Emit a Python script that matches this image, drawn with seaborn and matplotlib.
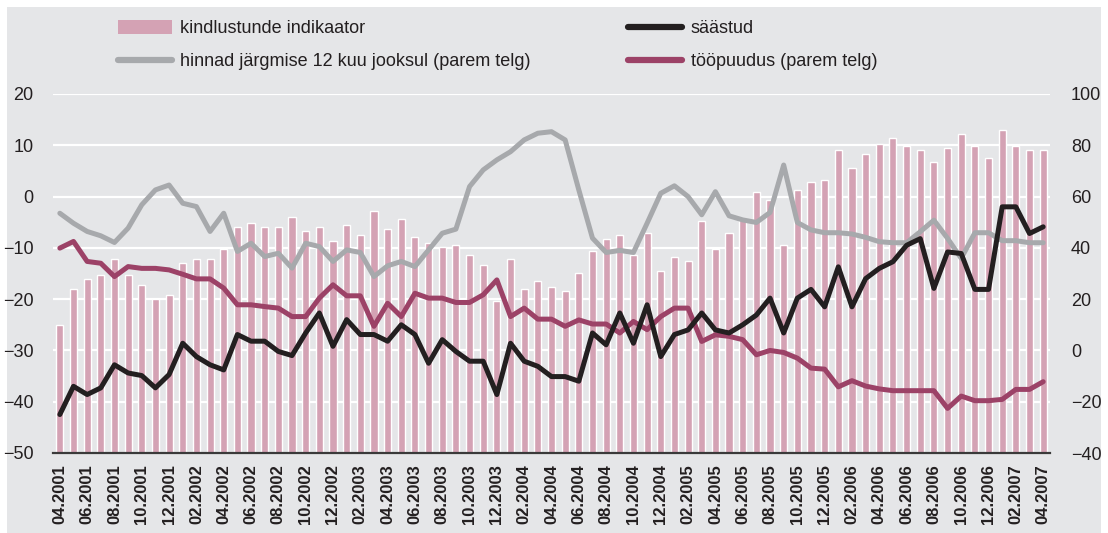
import numpy as np
import pandas as pd
import matplotlib
matplotlib.use("Agg")
import matplotlib.pyplot as plt
from matplotlib.patches import Rectangle, Patch
from matplotlib.lines import Line2D
import seaborn as sns

# months 04.2001 ... 04.2007
months = pd.date_range("2001-04-01", "2007-04-01", freq="MS")
tick_labels = [m.strftime("%m.%Y") for m in months]

# kindlustunde indikaator (left axis, bars)
confidence = [
    -25.0, -18.0, -16.0, -15.3, -12.1, -15.3, -17.2, -19.9, -19.2, -12.9,
    -12.1, -12.1, -10.2, -5.9, -5.1, -5.9, -5.9, -4.0, -6.7, -5.9,
    -8.6, -5.5, -7.5, -2.8, -6.3, -4.4, -7.9, -9.0, -9.8, -9.4,
    -11.4, -13.3, -20.3, -12.1, -18.0, -16.4, -17.6, -18.4, -14.9, -10.6,
    -8.2, -7.5, -11.4, -7.1, -14.5, -11.8, -12.5, -4.7, -10.2, -7.1,
    -4.5, 0.9, -0.6, -9.4, 1.3, 2.9, 3.2, 9.1, 5.6, 8.3,
    10.2, 11.4, 9.9, 9.1, 6.7, 9.5, 12.2, 9.9, 7.5, 13.0,
    9.9, 9.1, 9.1,
]

# säästud (left axis)
savings = [
    -42.5, -37.0, -38.6, -37.3, -32.8, -34.4, -34.9, -37.3, -34.7, -28.6,
    -31.2, -32.8, -33.8, -26.9, -28.2, -28.2, -30.2, -31.0, -26.6, -22.7,
    -29.2, -24.0, -26.9, -26.9, -28.2, -25.0, -26.9, -32.5, -27.9, -30.2,
    -32.1, -32.1, -38.6, -28.6, -32.1, -33.1, -35.1, -35.1, -36.0, -26.6,
    -28.9, -22.7, -28.6, -21.1, -31.2, -26.9, -26.0, -22.7, -26.0, -26.6,
    -25.0, -23.1, -19.8, -26.6, -19.8, -18.1, -21.5, -13.7, -21.5, -16.0,
    -14.0, -12.7, -9.5, -8.2, -17.9, -10.8, -11.1, -18.1, -18.1, -2.0,
    -2.0, -7.2, -5.9,
]

# hinnad järgmise 12 kuu jooksul (right axis)
prices = [
    53.5, 49.6, 46.4, 44.7, 42.1, 47.7, 56.8, 62.6, 64.5, 57.4,
    56.1, 46.4, 53.5, 38.6, 41.8, 36.6, 37.9, 32.1, 41.8, 40.5,
    34.7, 39.2, 38.2, 28.8, 33.0, 34.7, 32.7, 39.2, 45.7, 47.3,
    63.9, 70.4, 74.3, 77.5, 82.1, 84.7, 85.3, 82.1, 62.6, 43.8,
    38.2, 39.0, 38.2, 49.6, 61.3, 64.2, 60.0, 52.9, 61.9, 52.5,
    50.9, 49.9, 53.8, 72.3, 49.9, 47.0, 45.9, 45.9, 45.4, 44.1,
    42.4, 42.0, 42.0, 46.3, 50.8, 43.7, 35.9, 45.9, 45.9, 42.8,
    42.8, 42.0, 42.0,
]

# tööpuudus (right axis)
unemployment = [
    39.9, 42.5, 34.7, 34.0, 28.8, 32.7, 32.0, 32.0, 31.4, 29.7,
    27.9, 27.9, 24.3, 17.8, 17.8, 17.1, 16.5, 13.2, 13.2, 20.4,
    25.6, 21.3, 21.3, 9.4, 18.4, 13.2, 22.3, 20.4, 20.4, 18.7,
    18.7, 21.7, 27.5, 13.2, 16.5, 12.2, 12.2, 9.4, 11.9, 10.3,
    10.3, 6.8, 11.3, 8.1, 13.2, 16.5, 16.5, 3.5, 6.1, 5.5,
    4.2, -1.7, 0.0, -0.8, -3.0, -6.9, -7.3, -14.2, -11.8, -13.9,
    -15.0, -15.7, -15.7, -15.7, -15.7, -22.6, -17.8, -19.6, -19.6, -19.1,
    -15.2, -15.2, -12.2,
]

df = pd.DataFrame({
    "month": tick_labels,
    "confidence": confidence,
    "savings": savings,
    "prices": prices,
    "unemployment": unemployment,
})
df["pos"] = np.arange(len(df))

BG = "#e5e6e8"
PINK = "#d4a2b4"
GREY = "#a7a9ac"
MAROON = "#9c4267"
BLACK = "#231f20"
LEFT_MIN = -50  # bars grow up from the bottom of the left axis

sns.set_theme(style="white")
plt.rcParams["font.family"] = ["Liberation Sans", "DejaVu Sans"]

fig = plt.figure(figsize=(11.08, 5.33), dpi=100, facecolor="white")
fig.patches.append(Rectangle((7 / 1108, 0), 1094 / 1108, 526 / 533,
                             transform=fig.transFigure, facecolor=BG,
                             edgecolor="none", zorder=-10))

ax = fig.add_axes([53 / 1108, 80 / 533, 997 / 1108, 359 / 533])
ax.set_facecolor(BG)

# bars start at the axis floor, not at zero
ax.bar(df["pos"], df["confidence"] - LEFT_MIN, bottom=LEFT_MIN,
       width=0.52, color=PINK, zorder=2)

ax.set_ylim(LEFT_MIN, 20)
ax.set_yticks(range(LEFT_MIN, 21, 10))
ax.set_xlim(-0.5, len(df) - 0.5)
ax.grid(axis="y", color="white", linewidth=1.6)
ax.grid(axis="x", visible=False)
ax.set_axisbelow(True)

ax2 = ax.twinx()
sns.lineplot(data=df, x="pos", y="prices", color=GREY, linewidth=3.6, ax=ax2)
sns.lineplot(data=df, x="pos", y="unemployment", color=MAROON, linewidth=3.6, ax=ax2)
ax2.set_ylim(-40, 100)
ax2.set_yticks(range(-40, 101, 20))

ax3 = ax.twinx()
sns.lineplot(data=df, x="pos", y="savings", color=BLACK, linewidth=3.6, ax=ax3)
ax3.set_ylim(LEFT_MIN, 20)
ax3.set_yticks([])

for a in (ax, ax2, ax3):
    for side in ("top", "left", "right", "bottom"):
        a.spines[side].set_visible(False)
    a.set_xlabel("")
    a.set_ylabel("")
    a.grid(axis="x", visible=False)
ax2.grid(False)
ax3.grid(False)
ax.spines["bottom"].set_visible(True)
ax.spines["bottom"].set_color("#3a3a3a")
ax.spines["bottom"].set_linewidth(1.6)
ax.spines["bottom"].set_zorder(5)

ax.set_xticks(df["pos"][::2])
ax.set_xticklabels(df["month"][::2], rotation=90, fontsize=12,
                   fontweight="bold", color=BLACK)
ax.tick_params(axis="x", length=0, pad=8)
ax.tick_params(axis="y", length=0, pad=14, labelsize=13, labelcolor=BLACK)
ax2.tick_params(axis="y", length=0, pad=15, labelsize=13, labelcolor=BLACK)
ax3.set_xticks(df["pos"][::2])

handles = [
    Patch(facecolor=PINK, edgecolor="none"),
    Line2D([], [], color=GREY, linewidth=4.5),
    Line2D([], [], color=BLACK, linewidth=4.5),
    Line2D([], [], color=MAROON, linewidth=4.5),
]
labels = ["kindlustunde indikaator", "hinnad järgmise 12 kuu jooksul (parem telg)",
          "säästud", "tööpuudus (parem telg)"]
fig.legend(handles, labels, loc="upper left", ncol=2, frameon=False,
           bbox_to_anchor=(118 / 1108, 1 - 20 / 533), borderaxespad=0,
           borderpad=0, fontsize=13, handlelength=3.0, handleheight=0.85,
           handletextpad=0.45, columnspacing=5.4, labelspacing=0.85,
           labelcolor=BLACK)

fig.savefig("out.png", dpi=100, facecolor="white")
